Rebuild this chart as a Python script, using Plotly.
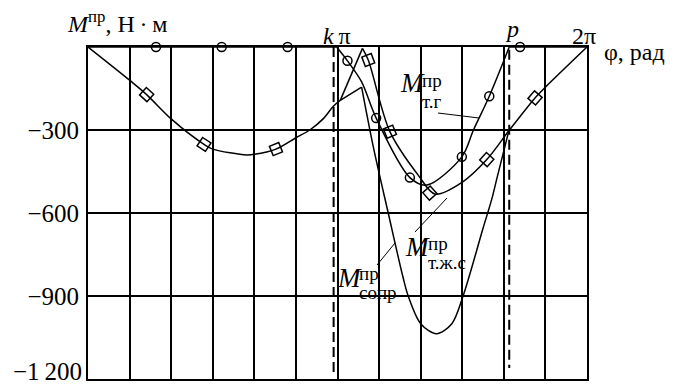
import numpy as np
import plotly.graph_objects as go

# ---------------- data (phi in degrees; plotted in radians) -------------
# shared part of M_сопр and M_т.ж.с (M_т.г = 0 there)
phi_common = [0, 30, 42.3, 60, 83.7, 90, 114.6, 120, 135.6, 150, 160, 170, 177, 182]
m_common = [0, -120, -172, -260, -352, -369, -390, -388, -369, -328, -300, -258, -214, -193]

# M_сопр after the common part (up to p, afterwards it coincides with M_т.ж.с)
phi_sopr = [182, 197.4, 205.8, 216.6, 227.4, 231, 240, 251.4, 262.5, 270.6, 285, 291.3, 295, 303.6]
m_sopr = [-193, -145, -360, -600, -835, -900, -1000, -1036, -1000, -900, -655, -550, -475, -303]

# M_т.ж.с branch after the common part
phi_tzhs = [182, 198, 202.2, 217.8, 238.2, 250.5, 269.7, 287.7, 303.6, 322.5, 330, 360]
m_tzhs = [-193, -5, -47, -306, -463, -532, -490, -407, -303, -184, -145, 0]

# M_т.г
phi_tg = [0, 179.4, 187.2, 197.4, 207.9, 232.2, 244.5, 269.7, 278.1, 289.5, 303.9, 360]
m_tg = [0, 0, -50, -126, -257, -472, -499, -397, -300, -178, 0, 0]

# markers
phi_circ = [49.05, 96.45, 144, 187.2, 207.9, 232.2, 269.7, 289.5, 311.7]
m_circ = [0, 0, 0, -50, -257, -472, -397, -178, 0]
phi_diam = [42.3, 83.7, 135.6, 202.2, 217.8, 246.6, 287.7, 322.5]
m_diam = [-172, -352, -369, -47, -306, -528, -407, -184]

# special angles
phi_k = 177.2   # k*pi
phi_p = 303.9   # p

y_ticks = [-300, -600, -900, -1200]
y_ticktext = ["\u2212300", "\u2212600", "\u2212900", "\u22121\u2009200"]

# ---------------- figure ----------------
OFF = 8                      # page body margin of the html page
W, H = 683 - OFF, 388 - OFF
L, R, T, B = 88 - OFF, 96, 47 - OFF, 9
PW, PH = W - L - R, H - T - B
FONT = "Liberation Serif"
rad = np.deg2rad


def px(xp):
    return (xp - OFF - L) / PW


def py(yp):
    return (H - B - (yp - OFF)) / PH


fig = go.Figure()


def draw(phi, m, breaks):
    phi = np.asarray(phi, float)
    m = np.asarray(m, float)
    for a, b in zip(breaks[:-1], breaks[1:]):
        seg_x = rad(phi[a:b + 1])
        seg_y = m[a:b + 1]
        fig.add_trace(go.Scatter(
            x=seg_x, y=seg_y, mode="lines",
            line=dict(color="black", width=1.5,
                      shape="spline" if b - a > 1 else "linear", smoothing=0.9),
            hoverinfo="skip", showlegend=False))


draw(phi_common, m_common, [0, len(phi_common) - 1])
draw(phi_sopr, m_sopr, [0, 1, len(phi_sopr) - 1])
draw(phi_tzhs, m_tzhs, [0, 1, len(phi_tzhs) - 1])
draw(phi_tg, m_tg, [0, 1, 10, len(phi_tg) - 1])

# orientation of square markers along the M_т.ж.с curve
full_phi = np.array(phi_common + phi_tzhs[1:], float)
full_m = np.array(m_common + m_tzhs[1:], float)
angles = []
for ph in phi_diam:
    d = 3.0
    m1 = np.interp(ph - d, full_phi, full_m)
    m2 = np.interp(ph + d, full_phi, full_m)
    dx = rad(2 * d) * PW / (2 * np.pi)
    dy = -(m2 - m1) * PH / 1200
    angles.append(float(np.degrees(np.arctan2(dy, dx))))

fig.add_trace(go.Scatter(
    x=rad(np.array(phi_diam)), y=m_diam, mode="markers", cliponaxis=False,
    marker=dict(symbol="square-open", size=10, angle=angles,
                color="black", line=dict(color="black", width=1.5)),
    hoverinfo="skip", showlegend=False))
fig.add_trace(go.Scatter(
    x=rad(np.array(phi_circ)), y=m_circ, mode="markers", cliponaxis=False,
    marker=dict(symbol="circle-open", size=9,
                color="black", line=dict(color="black", width=1.5)),
    hoverinfo="skip", showlegend=False))

# dashed verticals at k*pi and p
fig.add_shape(type="line", xref="x", yref="y", x0=rad(phi_k), x1=rad(phi_k), y0=0, y1=-1175,
              line=dict(color="black", width=2, dash="10px,5px"))
fig.add_shape(type="line", xref="x", yref="y", x0=rad(phi_p), x1=rad(phi_p), y0=-10, y1=-1160,
              line=dict(color="black", width=2, dash="10px,5px"))

# leader lines
for (x0, y0, x1, y1) in [(438, 113, 479, 118), (415, 232, 447, 198), (377, 265, 395, 243)]:
    fig.add_shape(type="line", xref="paper", yref="paper", x0=px(x0), y0=py(y0), x1=px(x1), y1=py(y1),
                  line=dict(color="black", width=1))


def ann(text, x, y, size, xanchor="left", yanchor="middle"):
    fig.add_annotation(text=text, x=px(x), y=py(y), xref="paper", yref="paper",
                       xanchor=xanchor, yanchor=yanchor, showarrow=False,
                       font=dict(family=FONT, size=size, color="black"))


ann("<i>M</i><sup>пр</sup>, Н\u2009·\u2009м", 65, 22, 24)
ann("<i>k</i>\u2009π", 337, 36, 24, xanchor="center")
ann("<i>p</i>", 512, 29, 24, xanchor="center")
ann("2π", 584, 36, 24, xanchor="center")
ann("φ, рад", 602, 52, 24)
# lowest y tick label (sits a little above the bottom edge, as in the original)
fig.add_annotation(text=y_ticktext[-1], x=px(84), y=py(371), xref="paper", yref="paper",
                   xanchor="right", yanchor="middle", showarrow=False,
                   font=dict(family=FONT, size=25, color="black"))

# curve labels
for (mx, my, sx, sy, bx, by, sub) in [(398, 83, 420, 80, 420, 101, "т.г"),
                                       (403, 247, 426, 243, 426, 262, "т.ж.с"),
                                       (335, 278, 357, 273, 357, 292, "сопр")]:
    ann("<i>M</i>", mx, my, 27)
    ann("пр", sx, sy, 19)
    ann(sub, bx, by, 19)

fig.update_layout(
    width=W, height=H,
    margin=dict(l=L, r=R, t=T, b=B),
    paper_bgcolor="white", plot_bgcolor="white",
    font=dict(family=FONT, color="black"),
    showlegend=False,
    xaxis=dict(range=[0, 2 * np.pi], tickvals=[k * np.pi / 6 for k in range(13)],
               showticklabels=False, ticks="", showgrid=True, gridcolor="black", gridwidth=2,
               showline=True, mirror=True, linecolor="black", linewidth=2, zeroline=False),
    yaxis=dict(range=[-1200, 0], tickvals=y_ticks[:-1], ticktext=y_ticktext[:-1],
               tickfont=dict(family=FONT, size=25, color="black"), ticks="",
               showgrid=True, gridcolor="black", gridwidth=2, ticklabelstandoff=2,
               showline=True, mirror=True, linecolor="black", linewidth=2, zeroline=False),
)

fig.write_html("out.html")
